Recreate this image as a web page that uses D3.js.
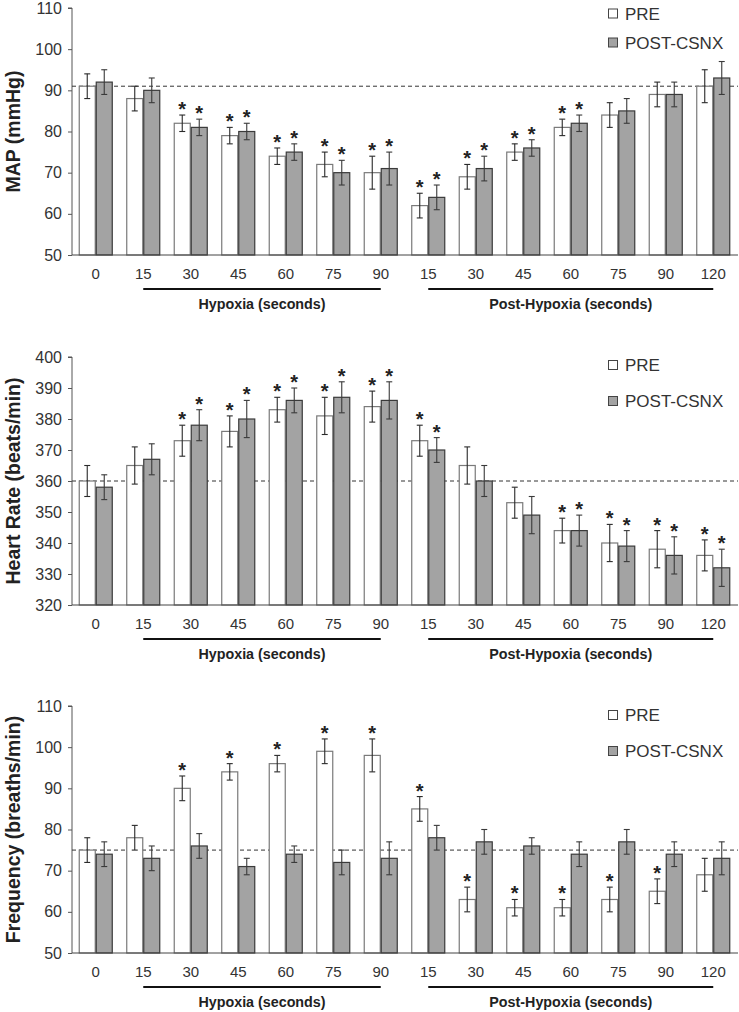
<!DOCTYPE html>
<html><head><meta charset="utf-8">
<script src="https://cdn.jsdelivr.net/npm/d3@7"></script>
<style>
body{margin:0;background:#fff;}
svg{display:block;font-family:"Liberation Sans",Arial,sans-serif;}
</style></head>
<body><svg id="chart" width="739" height="1012"></svg>
<script>
const categories = ["0","15","30","45","60","75","90","15","30","45","60","75","90","120"];
const seriesNames = ["PRE","POST-CSNX"];

const mapPre = [91,88,82,79,74,72,70,62,69,75,81,84,89,91];
const mapPreErr = [3,3,2,2,2,3,4,3,3,2,2,3,3,4];
const mapPost = [92,90,81,80,75,70,71,64,71,76,82,85,89,93];
const mapPostErr = [3,3,2,2,2,3,4,3,3,2,2,3,3,4];
const mapPreStar = [0,0,1,1,1,1,1,1,1,1,1,0,0,0];
const mapPostStar = [0,0,1,1,1,1,1,1,1,1,1,0,0,0];
const mapTicks = [50,60,70,80,90,100,110];

const hrPre = [360,365,373,376,383,381,384,373,365,353,344,340,338,336];
const hrPreErr = [5,6,5,5,4,6,5,5,6,5,4,6,6,5];
const hrPost = [358,367,378,380,386,387,386,370,360,349,344,339,336,332];
const hrPostErr = [4,5,5,6,4,5,6,4,5,6,5,5,6,6];
const hrPreStar = [0,0,1,1,1,1,1,1,0,0,1,1,1,1];
const hrPostStar = [0,0,1,1,1,1,1,1,0,0,1,1,1,1];
const hrTicks = [320,330,340,350,360,370,380,390,400];

const frPre = [75,78,90,94,96,99,98,85,63,61,61,63,65,69];
const frPreErr = [3,3,3,2,2,3,4,3,3,2,2,3,3,4];
const frPost = [74,73,76,71,74,72,73,78,77,76,74,77,74,73];
const frPostErr = [3,3,3,2,2,3,4,3,3,2,3,3,3,4];
const frPreStar = [0,0,1,1,1,1,1,1,1,1,1,1,1,0];
const frPostStar = [0,0,0,0,0,0,0,0,0,0,0,0,0,0];
const frTicks = [50,60,70,80,90,100,110];

const groupLabels = ["Hypoxia (seconds)","Post-Hypoxia (seconds)"];

const svg = d3.select("#chart");

const panels = [
  {title:"MAP (mmHg)", top:8, bottom:255, domain:[50,110], ticks:mapTicks, ref:91,
   pre:mapPre, preErr:mapPreErr, post:mapPost, postErr:mapPostErr, preStar:mapPreStar, postStar:mapPostStar, legendY:13.5, legendGap:29},
  {title:"Heart Rate (beats/min)", top:357, bottom:605, domain:[320,400], ticks:hrTicks, ref:360,
   pre:hrPre, preErr:hrPreErr, post:hrPost, postErr:hrPostErr, preStar:hrPreStar, postStar:hrPostStar, legendY:365, legendGap:36},
  {title:"Frequency (breaths/min)", top:706, bottom:953, domain:[50,110], ticks:frTicks, ref:75,
   pre:frPre, preErr:frPreErr, post:frPost, postErr:frPostErr, preStar:frPreStar, postStar:frPostStar, legendY:715, legendGap:36}
];

const left = 72, right = 738;
const x0 = d3.scaleBand().domain(d3.range(categories.length)).range([left, 737]).paddingInner(0.284).paddingOuter(0.142);
const x1 = d3.scaleBand().domain(seriesNames).range([0, x0.bandwidth()]);
const fills = {"PRE":"#ffffff","POST-CSNX":"#a3a3a3"};
const strokes = {"PRE":"#7a7a7a","POST-CSNX":"#3a3a3a"};
const errCol = {"PRE":"#2a2a2a","POST-CSNX":"#3a3a3a"};

panels.forEach(p => {
  const y = d3.scaleLinear().domain(p.domain).range([p.bottom, p.top]);
  const g = svg.append("g");

  // y axis
  const yAxis = g.append("g").attr("transform",`translate(${left},0)`)
    .call(d3.axisLeft(y).tickValues(p.ticks).tickSize(4).tickPadding(6).tickFormat(d3.format("d")));
  yAxis.select(".domain").attr("stroke","#555").attr("d",`M-4,${p.top}H0V${p.bottom}`);
  yAxis.selectAll(".tick line").attr("stroke","#555");
  yAxis.selectAll(".tick text").attr("font-size",16).attr("fill","#333")
    .attr("font-family","Liberation Sans, Arial, sans-serif");

  // y title
  g.append("text").attr("transform",`translate(20,${(p.top+p.bottom)/2}) rotate(-90)`)
    .attr("text-anchor","middle").attr("font-size",19.5).attr("font-weight","bold").attr("fill","#222")
    .text(p.title);

  // dashed reference
  g.append("line").attr("x1",left).attr("x2",right).attr("y1",y(p.ref)).attr("y2",y(p.ref))
    .attr("stroke","#333").attr("stroke-width",1).attr("stroke-dasharray","4,3");

  // bars
  const rows = categories.map((c,i)=>[
    {s:"PRE", i, v:p.pre[i], e:p.preErr[i], star:p.preStar[i]},
    {s:"POST-CSNX", i, v:p.post[i], e:p.postErr[i], star:p.postStar[i]}
  ]).flat();

  const bg = g.append("g");
  bg.selectAll("rect").data(rows).join("rect")
    .attr("x",d=>x0(d.i)+x1(d.s)+0.5)
    .attr("y",d=>y(d.v))
    .attr("width",x1.bandwidth()-1)
    .attr("height",d=>p.bottom-y(d.v))
    .attr("fill",d=>fills[d.s]).attr("stroke",d=>strokes[d.s]).attr("stroke-width",1.2);

  // error bars
  const eg = g.append("g");
  rows.forEach(d=>{
    const cx = x0(d.i)+x1(d.s)+x1.bandwidth()/2;
    const yt = y(d.v+d.e), yb = y(d.v-d.e);
    eg.append("line").attr("x1",cx).attr("x2",cx).attr("y1",yt).attr("y2",yb).attr("stroke",errCol[d.s]).attr("stroke-width",1.1);
    eg.append("line").attr("x1",cx-3).attr("x2",cx+3).attr("y1",yt).attr("y2",yt).attr("stroke",errCol[d.s]).attr("stroke-width",1.1);
    eg.append("line").attr("x1",cx-3).attr("x2",cx+3).attr("y1",yb).attr("y2",yb).attr("stroke",errCol[d.s]).attr("stroke-width",1.1);
    if(d.star){
      eg.append("text").attr("x",cx).attr("y",yt+1).attr("text-anchor","middle")
        .attr("font-size",20).attr("font-weight","bold").attr("fill","#222").text("*");
    }
  });

  // x axis line
  g.append("line").attr("x1",left).attr("x2",right).attr("y1",p.bottom).attr("y2",p.bottom)
    .attr("stroke","#444").attr("stroke-width",1);
  // x labels
  const xAxis = g.append("g").attr("transform",`translate(0,${p.bottom})`)
    .call(d3.axisBottom(x0).tickSize(0).tickPadding(13).tickFormat(i=>categories[i]));
  xAxis.select(".domain").remove();
  xAxis.selectAll(".tick text").attr("font-size",15).attr("fill","#333")
    .attr("font-family","Liberation Sans, Arial, sans-serif");

  // group brackets
  const brackets = [[1,6,0],[7,13,1]];
  brackets.forEach(([a,b,k])=>{
    const xa = x0(a)+x0.bandwidth()/2, xb = x0(b)+x0.bandwidth()/2;
    g.append("line").attr("x1",xa).attr("x2",xb).attr("y1",p.bottom+34).attr("y2",p.bottom+34)
      .attr("stroke","#111").attr("stroke-width",2);
    g.append("text").attr("x",(xa+xb)/2).attr("y",p.bottom+53.5).attr("text-anchor","middle")
      .attr("font-size",14.3).attr("font-weight","bold").attr("fill","#222").text(groupLabels[k]);
  });

  // legend
  seriesNames.forEach((s,k)=>{
    const ly = p.legendY + k*p.legendGap;
    g.append("rect").attr("x",608.5).attr("y",ly-4.5).attr("width",9).attr("height",9)
      .attr("fill",fills[s]).attr("stroke","#444").attr("stroke-width",1);
    g.append("text").attr("x",625).attr("y",ly+6).attr("font-size",17).attr("fill","#333").text(s);
  });
});
</script></body></html>
